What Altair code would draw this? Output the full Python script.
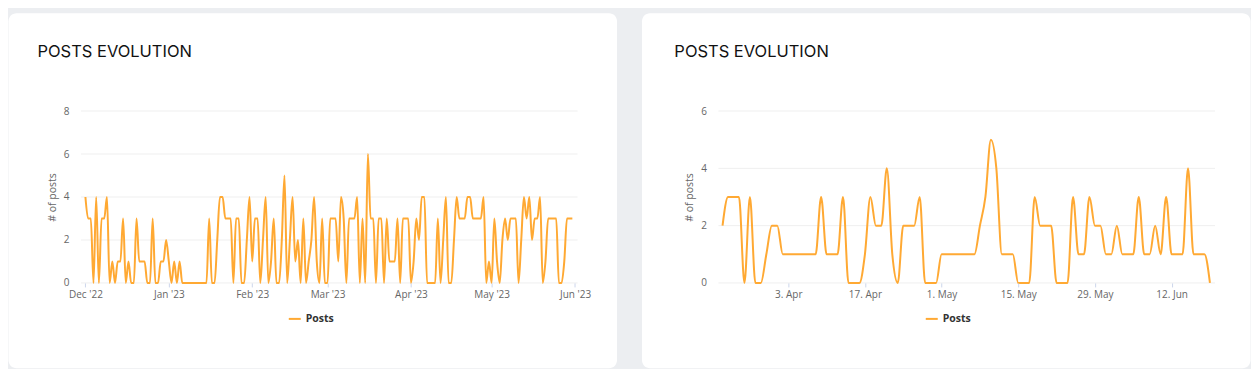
import altair as alt
import pandas as pd

# ---------------- data ----------------
title_text = "POSTS EVOLUTION"
series_name = "Posts"
y_title = "# of posts"

# daily posts, 1 Dec 2022 .. 31 May 2023
left_start = "2022-12-01"
left_values = [
    # Dec
    4, 3, 3, 0, 4, 0, 3, 3, 4, 0, 1, 0, 1, 1, 3, 0, 1, 0, 0, 3, 1, 1, 1, 0, 0, 3, 0, 0, 1, 1, 2,
    # Jan
    1, 0, 1, 0, 1, 0, 0, 0, 0, 0, 0, 0, 0, 0, 0, 3, 0, 0, 2, 4, 4, 3, 3, 3, 0, 3, 3, 0, 0, 2, 4,
    # Feb
    1, 3, 3, 0, 2, 4, 0, 1, 3, 0, 0, 2, 5, 0, 2, 4, 1, 2, 0, 3, 0, 1, 2, 4, 1, 0, 3, 0,
    # Mar
    0, 3, 3, 3, 1, 4, 3, 0, 3, 3, 3, 4, 0, 3, 0, 6, 3, 3, 0, 3, 3, 0, 3, 1, 1, 1, 3, 0, 3, 3, 3,
    # Apr
    0, 1, 3, 2, 4, 4, 0, 0, 0, 0, 3, 0, 2, 4, 0, 0, 2, 4, 3, 3, 3, 4, 4, 3, 3, 3, 3, 4, 0, 1,
    # May
    0, 3, 1, 0, 2, 3, 2, 3, 3, 3, 0, 2, 4, 3, 4, 2, 3, 3, 4, 0, 1, 3, 3, 3, 3, 0, 0, 1, 3, 3, 3,
]

# daily posts, 22 Mar 2023 .. 19 Jun 2023
right_start = "2023-03-22"
right_values = [
    2, 3, 3, 3, 0, 3, 0, 0, 1, 2, 2, 1, 1, 1, 1, 1, 1, 1, 3, 1, 1, 1, 3, 0, 0, 0, 1, 3, 2, 2,
    4, 1, 0, 2, 2, 2, 3, 0, 0, 0, 1, 1, 1, 1, 1, 1, 1, 2, 3, 5, 4, 1, 1, 1, 0, 0, 0, 3, 2, 2,
    2, 0, 0, 0, 3, 1, 1, 3, 2, 2, 1, 1, 2, 1, 1, 1, 3, 1, 1, 2, 1, 3, 1, 1, 1, 4, 1, 1, 1, 0,
]

left_ticks = ["2022-12-01", "2023-01-01", "2023-02-01", "2023-03-01",
              "2023-04-01", "2023-05-01", "2023-06-01"]
right_ticks = ["2023-04-03", "2023-04-17", "2023-05-01", "2023-05-15",
               "2023-05-29", "2023-06-12"]
left_y_ticks = [0, 2, 4, 6, 8]
right_y_ticks = [0, 2, 4, 6]

# ---------------- styling ----------------
LINE = "#FFA933"
BG = "#ECEEF1"
LABEL = "#666666"
GRID = "#EFEFEF"
FONT = "Open Sans"


def dt(s, hours=0, minutes=0):
    t = pd.Timestamp(s)
    return alt.DateTime(year=t.year, month=t.month, date=t.day,
                        hours=hours, minutes=minutes, utc=True)


def frame(start, values):
    dates = pd.date_range(start, periods=len(values), freq="D")
    return pd.DataFrame({"date": dates.strftime("%Y-%m-%d"),
                         "posts": values,
                         "series": series_name})


def panel(df, domain, ticks, fmt, ymax, yticks, W, H, card, title_x, legend_x):
    cl, cr, ct, cb = card
    yscale = alt.Scale(domain=[0, ymax], nice=False)
    yaxis = alt.Axis(values=yticks, title=y_title, grid=False,
                     domain=False, ticks=False, labelPadding=12,
                     titlePadding=6, zindex=1)

    card_layer = alt.Chart(pd.DataFrame({"c": [1]})).mark_rect(
        color="white", cornerRadius=8
    ).encode(x=alt.value(cl), x2=alt.value(cr), y=alt.value(ct), y2=alt.value(cb))

    grid_layer = alt.Chart(pd.DataFrame({"posts": yticks})).mark_rule(
        color=GRID, strokeWidth=1
    ).encode(y=alt.Y("posts:Q", scale=yscale, axis=yaxis))

    title_layer = alt.Chart(pd.DataFrame({"label": [title_text]})).mark_text(
        align="left", baseline="alphabetic", font="Inter", fontSize=16.5,
        fontWeight=400, color="#111111"
    ).encode(x=alt.value(title_x), y=alt.value(-54), text="label:N")

    line = alt.Chart(df).mark_line(
        interpolate="monotone", strokeWidth=2
    ).encode(
        x=alt.X("date:T",
                scale=alt.Scale(type="utc", domain=domain),
                axis=alt.Axis(values=[dt(t) for t in ticks], format=fmt,
                              title=None, grid=False, domain=False,
                              ticks=True, tickSize=4, tickColor="#ccd6eb",
                              labelPadding=3, zindex=1)),
        y=alt.Y("posts:Q", scale=yscale, axis=yaxis),
        color=alt.Color("series:N",
                        scale=alt.Scale(domain=[series_name], range=[LINE]),
                        legend=alt.Legend(title=None, orient="none",
                                          legendX=legend_x, legendY=201,
                                          symbolType="stroke", symbolSize=144,
                                          symbolStrokeWidth=2, padding=0,
                                          labelOffset=4,
                                          labelFont=FONT, labelFontSize=10.5,
                                          labelFontWeight="bold",
                                          labelColor="#333333", zindex=1)),
    )
    return alt.layer(card_layer, grid_layer, title_layer, line).properties(width=W, height=H)


left = panel(
    frame(left_start, left_values),
    [dt("2022-11-29", 8, 0), dt("2023-06-01", 22, 20)],
    left_ticks, "%b '%y", 8, left_y_ticks,
    497, 172, (-72.5, 536.5, -98, 257.3), -43.5, 207,
)
right = panel(
    frame(right_start, right_values),
    [dt("2023-03-21", 6, 0), dt("2023-06-19", 22, 20)],
    right_ticks, "%-d. %b", 6, right_y_ticks,
    497, 172, (-76.5, 532.5, -98, 257.3), -44.1, 206.5,
)

chart = alt.hconcat(left, right, spacing=24).resolve_scale(
    color="independent", x="independent", y="independent"
).resolve_legend(color="independent").properties(
    background=BG,
    padding={"left": 0, "top": 5, "right": 0, "bottom": 0},
).configure_view(strokeWidth=0).configure_axis(
    labelFont=FONT, labelFontSize=10, labelColor=LABEL,
    titleFont=FONT, titleFontSize=10.5, titleFontWeight="normal", titleColor=LABEL,
)

chart.save("out.html", embed_options={"renderer": "svg", "actions": False})
